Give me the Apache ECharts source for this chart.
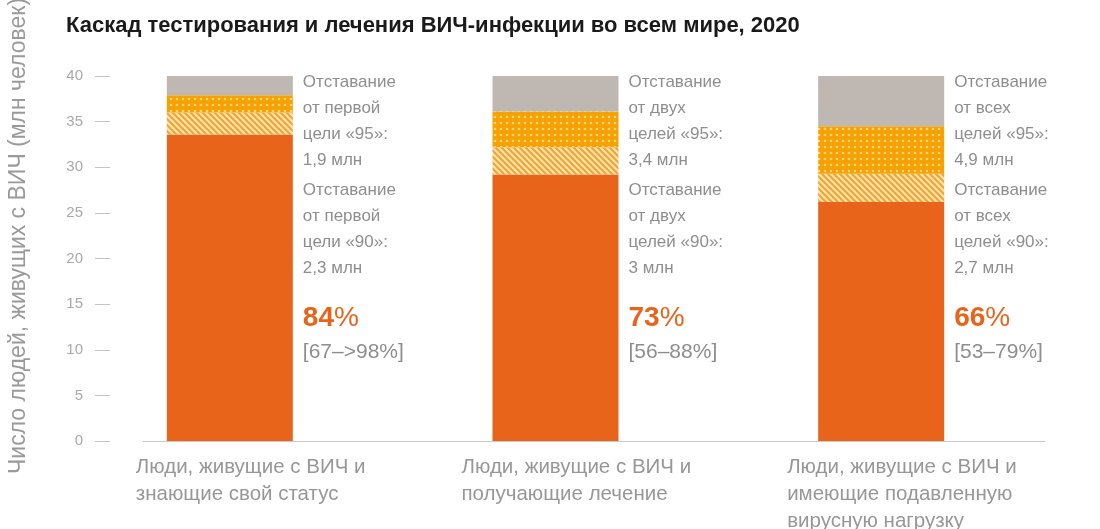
<!DOCTYPE html>
<html>
<head>
<meta charset="utf-8">
<script src="https://cdn.jsdelivr.net/npm/echarts@6/dist/echarts.min.js"></script>
<style>
  html, body { margin: 0; padding: 0; background: #ffffff; }
  #chart { width: 1100px; height: 529px; }
</style>
</head>
<body>
<div id="chart"></div>
<script>
// ---- data ----
var categories = [
  'Люди, живущие с ВИЧ и\nзнающие свой статус',
  'Люди, живущие с ВИЧ и\nполучающие лечение',
  'Люди, живущие с ВИЧ и\nимеющие подавленную\nвирусную нагрузку'
];
var achieved  = [33.6, 29.2, 26.2];   // reached (solid orange)
var gap90     = [2.4, 3.0, 3.1];      // gap to 90 target (hatched)
var gap95     = [1.9, 3.9, 5.2];      // gap to 95 target (dotted)
var remainder = [2.1, 3.9, 5.5];      // rest up to 40 (grey)
var gapWho    = ['от первой', 'от двух', 'от всех'];
var goalWord  = ['цели', 'целей', 'целей'];
var gap95Text = ['1,9 млн', '3,4 млн', '4,9 млн'];
var gap90Text = ['2,3 млн', '3 млн', '2,7 млн'];
var pctText   = ['84', '73', '66'];
var rangeText = ['[67–>98%]', '[56–88%]', '[53–79%]'];
var yTicks    = { min: 0, max: 40, step: 5 };
var titleText = 'Каскад тестирования и лечения ВИЧ-инфекции во всем мире, 2020';
var yName     = 'Число людей, живущих с ВИЧ (млн человек)';

// ---- patterns ----
function dotPattern() {
  var c = document.createElement('canvas');
  c.width = 6; c.height = 6;
  var g = c.getContext('2d');
  g.fillStyle = '#F5A200'; g.fillRect(0, 0, 6, 6);
  g.fillStyle = '#FFD583';
  g.beginPath(); g.arc(3, 3, 1.3, 0, Math.PI * 2); g.fill();
  return c;
}
function hatchPattern() {
  var c = document.createElement('canvas');
  c.width = 6; c.height = 6;
  var g = c.getContext('2d');
  g.fillStyle = '#FCE4A8'; g.fillRect(0, 0, 6, 6);
  g.strokeStyle = '#F2A236'; g.lineWidth = 2;
  g.beginPath();
  g.moveTo(-1, -1); g.lineTo(7, 7);
  g.moveTo(-4, 2); g.lineTo(4, 10);
  g.moveTo(2, -4); g.lineTo(10, 4);
  g.stroke();
  return c;
}

var ORANGE = '#E8641B';
var GREY_TXT = '#8e8e8e';
var FONT = 'Liberation Sans, Arial, sans-serif';

var chart = echarts.init(document.getElementById('chart'), null, { renderer: 'canvas' });

function annot(p) {
  var i = p.dataIndex;
  return [
    '{t|Отставание}', '{t|' + gapWho[i] + '}', '{t|' + goalWord[i] + ' «95»:}', '{t|' + gap95Text[i] + '}',
    '{s1| }',
    '{t|Отставание}', '{t|' + gapWho[i] + '}', '{t|' + goalWord[i] + ' «90»:}', '{t|' + gap90Text[i] + '}',
    '{s2| }',
    '{p|' + pctText[i] + '}{q|%}',
    '{r|' + rangeText[i] + '}'
  ].join('\n');
}

var option = {
  backgroundColor: '#ffffff',
  animation: false,
  textStyle: { fontFamily: FONT },
  title: {
    text: titleText, left: 61, top: 10,
    textStyle: { fontSize: 22, fontWeight: 'bold', color: '#1a1a1a', fontFamily: FONT }
  },
  graphic: [{
    type: 'text', x: 19, y: 236, rotation: Math.PI / 2,
    style: { text: yName, fontSize: 23, fill: '#9a9a9a', align: 'center', verticalAlign: 'middle', fontFamily: FONT }
  }],
  grid: [
    { left: 67, right: 56, top: 76, bottom: 88 },
    { left: 143, right: 55, top: 76, bottom: 88 }
  ],
  xAxis: [
    { type: 'category', data: categories, gridIndex: 0,
      axisLine: { show: false }, axisTick: { show: false }, axisLabel: { show: false } },
    { type: 'value', gridIndex: 1, min: 0, max: 1,
      axisLine: { show: true, onZero: false, lineStyle: { color: '#c9c9c9', width: 1 } },
      axisTick: { show: false }, axisLabel: { show: false }, splitLine: { show: false } }
  ],
  yAxis: [
    { type: 'value', gridIndex: 0, min: yTicks.min, max: yTicks.max, interval: yTicks.step,
      offset: -43,
      axisLine: { show: false },
      axisTick: { show: true, length: 15, lineStyle: { color: '#c4c4c4', width: 1 } },
      axisLabel: { margin: 27, fontSize: 15, color: '#a9a9a9', fontFamily: FONT },
      splitLine: { show: false } },
    { type: 'value', gridIndex: 1, min: 0, max: 40, show: false }
  ],
  series: [
    { name: 'achieved', type: 'bar', stack: 's', barWidth: 126, data: achieved,
      itemStyle: { color: ORANGE },
      label: { show: true, position: 'bottom', distance: 13, align: 'left', offset: [-94, 0],
        formatter: function (p) { return categories[p.dataIndex]; },
        fontSize: 20.5, lineHeight: 27, color: '#979797', fontFamily: FONT } },
    { name: 'gap90', type: 'bar', stack: 's', barWidth: 126, data: gap90,
      itemStyle: { color: { image: hatchPattern(), repeat: 'repeat' } } },
    { name: 'gap95', type: 'bar', stack: 's', barWidth: 126, data: gap95,
      itemStyle: { color: { image: dotPattern(), repeat: 'repeat' } } },
    { name: 'remainder', type: 'bar', stack: 's', barWidth: 126, data: remainder,
      itemStyle: { color: '#BEB7B2' },
      label: { show: true, position: [136, -7], align: 'left', verticalAlign: 'top',
        formatter: annot,
        rich: {
          t: { fontSize: 17, lineHeight: 26, color: GREY_TXT, fontFamily: FONT },
          s1: { fontSize: 4, lineHeight: 4 },
          s2: { fontSize: 4, lineHeight: 20 },
          p: { fontSize: 28, lineHeight: 34, fontWeight: 'bold', color: ORANGE, fontFamily: FONT },
          q: { fontSize: 28, lineHeight: 34, color: ORANGE, fontFamily: FONT },
          r: { fontSize: 21, lineHeight: 34, color: GREY_TXT, fontFamily: FONT }
        } } }
  ]
};
chart.setOption(option);
</script>
</body>
</html>
